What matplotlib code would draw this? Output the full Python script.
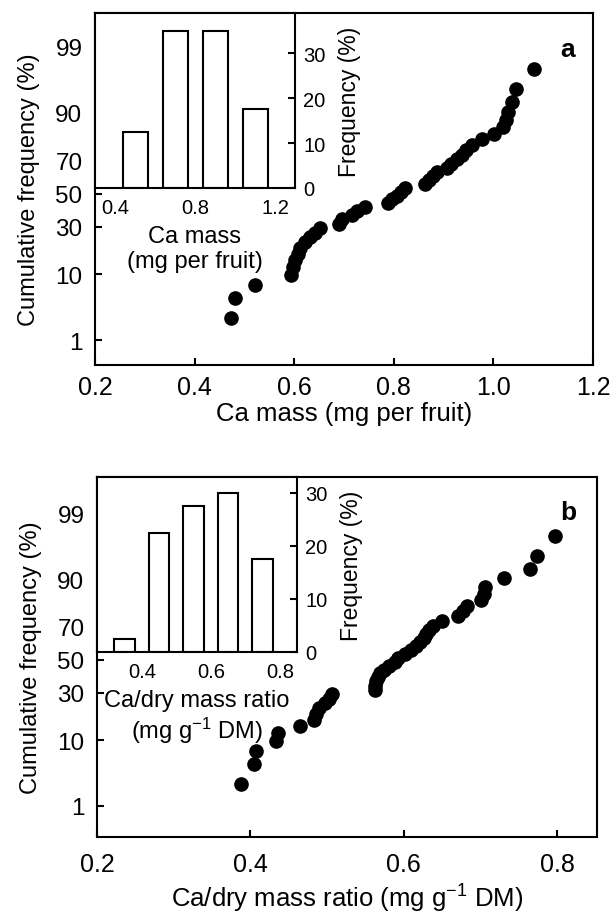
import math
import numpy as np
import matplotlib
matplotlib.use("Agg")
import matplotlib.pyplot as plt
from statistics import NormalDist

plt.rcParams['font.family'] = ['Liberation Sans', 'DejaVu Sans']
plt.rcParams['mathtext.fontset'] = 'custom'
plt.rcParams['mathtext.rm'] = 'Liberation Sans'
plt.rcParams['mathtext.default'] = 'regular'

# ---------------- data ----------------
# cumulative frequency (%) of the ranked observations (n = 40)
cum_freq_pct = [2.44, 4.88, 7.32, 9.76, 12.20, 14.63, 17.07, 19.51, 21.95, 24.39,
                26.83, 29.27, 31.71, 34.15, 36.59, 39.02, 41.46, 43.90, 46.34, 48.78,
                51.22, 53.66, 56.10, 58.54, 60.98, 63.41, 65.85, 68.29, 70.73, 73.17,
                75.61, 78.05, 80.49, 82.93, 85.37, 87.80, 90.24, 92.68, 95.12, 97.56]

# panel a: Ca mass (mg per fruit), ranked
ca_mass = [0.473, 0.482, 0.522, 0.594, 0.598, 0.602, 0.607, 0.612, 0.622, 0.632,
           0.642, 0.652, 0.690, 0.695, 0.716, 0.726, 0.743, 0.788, 0.796, 0.806,
           0.814, 0.823, 0.863, 0.871, 0.879, 0.887, 0.907, 0.915, 0.927, 0.936,
           0.944, 0.958, 0.977, 1.001, 1.020, 1.026, 1.029, 1.037, 1.046, 1.082]

# panel b: Ca/dry mass ratio (mg g-1 DM), ranked
ca_ratio = [0.388, 0.405, 0.407, 0.433, 0.436, 0.465, 0.483, 0.485, 0.490, 0.497,
            0.502, 0.507, 0.562, 0.563, 0.564, 0.567, 0.569, 0.574, 0.581, 0.588,
            0.593, 0.601, 0.609, 0.616, 0.621, 0.626, 0.629, 0.633, 0.638, 0.650,
            0.671, 0.677, 0.682, 0.701, 0.704, 0.706, 0.731, 0.765, 0.774, 0.797]

# inset histograms
hist_a_centers = [0.5, 0.7, 0.9, 1.1]
hist_a_freq = [12.5, 35.0, 35.0, 17.5]
hist_b_centers = [0.35, 0.45, 0.55, 0.65, 0.75]
hist_b_freq = [2.5, 22.5, 27.5, 30.0, 17.5]

prob_ticks = [1, 10, 30, 50, 70, 90, 99]

# ---------------- probability scale ----------------
_nd = NormalDist()


def _ppf(p):
    f = p / 100.0
    if not np.isfinite(f):
        return np.nan
    f = min(max(f, 1e-9), 1 - 1e-9)
    return _nd.inv_cdf(f)


def _cdf(z):
    return 100.0 * 0.5 * (1.0 + math.erf(z / math.sqrt(2.0)))


prob_fwd = np.vectorize(_ppf, otypes=[float])
prob_inv = np.vectorize(_cdf, otypes=[float])

fig = plt.figure(figsize=(6.16, 9.2), dpi=100)

LW = 1.5
XTICK_FS = 18
YTICK_FS = 17.5
XLAB_FS = 18.5
YLAB_FS = 17
INS_TICK_FS = 14.5
INS_XLAB_FS = 17
INS_YLAB_FS = 16.5


def main_panel(rect, xvals, xlim, xticks, xlabel, ylim, letter, letter_pos, xpad, xlabpad):
    ax = fig.add_axes(rect)
    ax.set_yscale('function', functions=(prob_fwd, prob_inv))
    ax.plot(xvals, cum_freq_pct, 'o', color='black', ms=9.5, zorder=3)
    ax.set_xlim(*xlim)
    ax.set_ylim(*ylim)
    ax.set_xticks(xticks)
    ax.set_xticklabels([f"{t:.1f}" for t in xticks])
    ax.set_yticks(prob_ticks)
    ax.set_yticklabels([str(t) for t in prob_ticks])
    ax.yaxis.set_minor_locator(matplotlib.ticker.NullLocator())
    ax.tick_params(axis='both', direction='in', length=5, width=LW,
                   top=False, right=False)
    ax.tick_params(axis='y', pad=9, labelsize=YTICK_FS)
    ax.tick_params(axis='x', pad=xpad, labelsize=XTICK_FS)
    for s in ax.spines.values():
        s.set_linewidth(LW)
    ax.set_xlabel(xlabel, fontsize=XLAB_FS, labelpad=xlabpad)
    ax.set_ylabel('Cumulative frequency (%)', fontsize=YLAB_FS, labelpad=11)
    ax.text(letter_pos[0], letter_pos[1], letter, transform=ax.transAxes,
            fontsize=19, fontweight='bold', ha='center', va='center')
    return ax


def inset(rect, centers, freqs, width, xlim, xticks, ylim, xlabel):
    ax = fig.add_axes(rect, zorder=5)
    ax.set_facecolor('white')
    ax.bar(centers, freqs, width=width, facecolor='white', edgecolor='black',
           linewidth=LW)
    ax.set_xlim(*xlim)
    ax.set_ylim(*ylim)
    ax.set_xticks(xticks)
    ax.set_xticklabels([f"{t:.1f}" for t in xticks])
    ax.set_yticks([0, 10, 20, 30])
    ax.yaxis.tick_right()
    ax.yaxis.set_label_position('right')
    ax.tick_params(axis='y', direction='in', length=5, width=LW,
                   labelsize=INS_TICK_FS, left=False, right=True, pad=6)
    ax.tick_params(axis='x', length=0, labelsize=INS_TICK_FS, pad=7)
    for s in ax.spines.values():
        s.set_linewidth(LW)
    ax.set_ylabel('Frequency (%)', fontsize=INS_YLAB_FS, labelpad=9)
    ax.set_xlabel(xlabel, fontsize=INS_XLAB_FS, labelpad=6, linespacing=1.15)
    return ax


# panel a
W, H = 616.0, 920.0
main_panel([95 / W, 1 - 366 / H, 498 / W, 352 / H], ca_mass, (0.2, 1.2),
           [0.2, 0.4, 0.6, 0.8, 1.0, 1.2], 'Ca mass (mg per fruit)',
           (0.33, 99.79), 'a', (0.948, 0.898), 7, 2)
inset([95 / W, 1 - 189 / H, 200 / W, 175 / H], hist_a_centers, hist_a_freq, 0.125,
      (0.3, 1.3), [0.4, 0.8, 1.2], (0, 39), 'Ca mass\n(mg per fruit)')

# panel b
main_panel([97 / W, 1 - 838 / H, 500 / W, 360 / H], ca_ratio, (0.2, 0.852),
           [0.2, 0.4, 0.6, 0.8], 'Ca/dry mass ratio (mg g$^{-1}$ DM)',
           (0.24, 99.82), 'b', (0.943, 0.903), 11, 4)
inset([97 / W, 1 - 653 / H, 200 / W, 175 / H], hist_b_centers, hist_b_freq, 0.06,
      (0.27, 0.85), [0.4, 0.6, 0.8], (0, 33), 'Ca/dry mass ratio\n(mg g$^{-1}$ DM)')

fig.savefig('out.png', dpi=100)
